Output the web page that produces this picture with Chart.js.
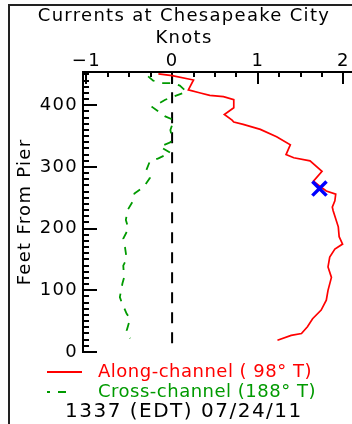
<!DOCTYPE html>
<html><head><meta charset="utf-8">
<script src="https://cdn.jsdelivr.net/npm/chart.js@4"></script>
<style>
html,body{margin:0;padding:0;background:#fff;overflow:hidden;}
canvas{display:block;}
</style></head><body>
<canvas id="c" width="352" height="424"></canvas>
<script>
const titleLines = ['Currents at Chesapeake City', 'Knots'];
const yTitle = 'Feet From Pier';
const xTicks = [-1, 0, 1, 2];
const yTicks = [0, 100, 200, 300, 400];

const alongDepth = [451,448,441,425,420,416,414,409,396,385,376,373,369,361,349,336,320,315,310,293,277,265,261,256,245,235,229,203,187,175,167,154,138,121,100,84,68,54,41,30,27,19];
const alongKnots = [-0.16,0.00,0.25,0.19,0.33,0.44,0.60,0.72,0.72,0.61,0.70,0.72,0.83,1.03,1.22,1.38,1.33,1.42,1.61,1.75,1.65,1.76,1.80,1.91,1.90,1.87,1.88,1.94,1.95,1.99,1.90,1.84,1.82,1.86,1.82,1.80,1.74,1.64,1.58,1.51,1.39,1.23];

const crossDepth = [447,440,436,436,432,422,409,397,382,376,360,347,340,333,323,314,309,295,282,268,257,244,230,214,200,184,170,151,140,121,111,89,81,62,54,35,22];
const crossKnots = [-0.28,-0.22,-0.12,0.00,0.09,0.17,-0.08,-0.23,-0.08,0.02,-0.02,0.00,-0.02,-0.14,-0.02,-0.16,-0.26,-0.30,-0.26,-0.33,-0.44,-0.46,-0.52,-0.54,-0.51,-0.57,-0.55,-0.53,-0.57,-0.56,-0.58,-0.61,-0.59,-0.53,-0.49,-0.53,-0.49];

const zeroDepth = [14, 450];
const zeroKnots = [0, 0];
const markDepth = [265];
const markKnots = [1.72];

const legendLabels = ['Along-channel ( 98\u00b0 T)', 'Cross-channel (188\u00b0 T)'];
const timeLabel = '1337 (EDT) 07/24/11';

const RED = '#ff0000';
const GREEN = '#009a00';
const FONT = '"DejaVu Sans", sans-serif';

function pts(xs, ys) { return xs.map((v, i) => ({x: v, y: ys[i]})); }

Chart.defaults.font.family = FONT;
Chart.defaults.font.size = 18;
Chart.defaults.color = '#000';

const framePlugin = {
  id: 'frame',
  beforeDraw(chart) {
    const ctx = chart.ctx;
    ctx.save();
    ctx.strokeStyle = '#222';
    ctx.lineWidth = 2;
    ctx.beginPath();
    ctx.moveTo(9, 430); ctx.lineTo(9, 5); ctx.lineTo(360, 5);
    ctx.stroke();
    ctx.restore();
    ctx.letterSpacing = '1.3px';
  },
  beforeDatasetsDraw(chart) { chart.ctx.letterSpacing = '0px'; }
};

const tickPlugin = {
  id: 'ticks',
  beforeDatasetsDraw(chart) {
    const ctx = chart.ctx, xs = chart.scales.x, ys = chart.scales.y, a = chart.chartArea;
    ctx.save();
    ctx.strokeStyle = '#000';
    ctx.lineWidth = 2;
    ctx.setLineDash([]);
    ctx.beginPath();
    for (let i = 0; i * 10 <= ys.max; i++) {
      const v = i * 10;
      const py = Math.round(ys.getPixelForValue(v));
      const len = (v % 100 === 0) ? 14 : 6;
      ctx.moveTo(a.left, py); ctx.lineTo(a.left + len, py);
    }
    for (let i = -8; i <= 12; i++) {
      const v = i * 0.25;
      if (v < xs.min || v > xs.max) continue;
      const px = Math.round(xs.getPixelForValue(v));
      const len = (i % 4 === 0) ? 12 : 5;
      ctx.moveTo(px, a.top); ctx.lineTo(px, a.top + len);
    }
    ctx.stroke();
    ctx.restore();
  }
};

const legendPlugin = {
  id: 'customLegend',
  afterDraw(chart) {
    const ctx = chart.ctx;
    const dA = chart.data.datasets[1], dC = chart.data.datasets[2];
    ctx.save();
    ctx.textAlign = 'left';
    ctx.textBaseline = 'middle';
    ctx.font = '18px ' + FONT;
    ctx.letterSpacing = '0.5px';
    ctx.strokeStyle = dA.borderColor; ctx.lineWidth = 2; ctx.setLineDash([]);
    ctx.beginPath(); ctx.moveTo(47, 372); ctx.lineTo(82, 372); ctx.stroke();
    ctx.fillStyle = dA.borderColor;
    ctx.fillText(legendLabels[0], 98, 372);
    ctx.strokeStyle = dC.borderColor; ctx.lineWidth = 2;
    ctx.setLineDash([8, 8]); ctx.lineDashOffset = 5;
    ctx.beginPath(); ctx.moveTo(47, 392); ctx.lineTo(67, 392); ctx.stroke();
    ctx.setLineDash([]);
    ctx.fillStyle = dC.borderColor;
    ctx.fillText(legendLabels[1], 98, 392);
    ctx.fillStyle = '#000';
    ctx.font = '20px ' + FONT;
    ctx.letterSpacing = '1.5px';
    ctx.fillText(timeLabel, 65, 412);
    ctx.restore();
  }
};

new Chart(document.getElementById('c'), {
  type: 'scatter',
  data: {
    datasets: [
      { label: 'marker', data: pts(markKnots, markDepth), showLine: false,
        pointStyle: 'crossRot', radius: 10, borderColor: '#0000ff', backgroundColor: '#0000ff', borderWidth: 3.5 },
      { label: legendLabels[0], data: pts(alongKnots, alongDepth), showLine: true, pointRadius: 0,
        borderColor: RED, borderWidth: 1.7, tension: 0 },
      { label: legendLabels[1], data: pts(crossKnots, crossDepth), showLine: true, pointRadius: 0,
        borderColor: GREEN, borderWidth: 1.8, borderDash: [8, 8], tension: 0 },
      { label: 'zero', data: pts(zeroKnots, zeroDepth), showLine: true, pointRadius: 0,
        borderColor: '#000', borderWidth: 2, borderDash: [11, 9], tension: 0 }
    ]
  },
  options: {
    responsive: false,
    animation: false,
    events: [],
    devicePixelRatio: 1,
    layout: { autoPadding: false, padding: { left: 16, right: 0, top: 0, bottom: 72 } },
    plugins: {
      legend: { display: false },
      tooltip: { enabled: false },
      title: { display: true, text: titleLines, color: '#000',
        font: { size: 18, weight: 'normal', family: FONT, lineHeight: 1.2 },
        padding: { top: 6, bottom: 0 } }
    },
    scales: {
      x: {
        type: 'linear', position: 'top', min: -1.04, max: 2.10,
        afterBuildTicks(s) { s.ticks = xTicks.map(v => ({value: v})); },
        afterFit(s) { s.height = 22.8; },
        grid: { display: false, drawTicks: false },
        border: { display: true, color: '#000', width: 2 },
        ticks: { padding: 0, color: '#000', font: { size: 18 },
          callback: v => v < 0 ? '\u2212' + Math.abs(v) : String(v) }
      },
      y: {
        type: 'linear', position: 'left', min: 0, max: 454,
        afterBuildTicks(s) { s.ticks = yTicks.map(v => ({value: v})); },
        afterFit(s) { s.width = 67; },
        grid: { display: false, drawTicks: false },
        border: { display: true, color: '#000', width: 2 },
        ticks: { padding: 5, color: '#000', font: { size: 18 } },
        title: { display: true, text: yTitle, color: '#000',
          font: { size: 18, lineHeight: 1 }, padding: { top: 0, bottom: 0 } }
      }
    }
  },
  plugins: [framePlugin, tickPlugin, legendPlugin]
});
</script>
</body></html>
